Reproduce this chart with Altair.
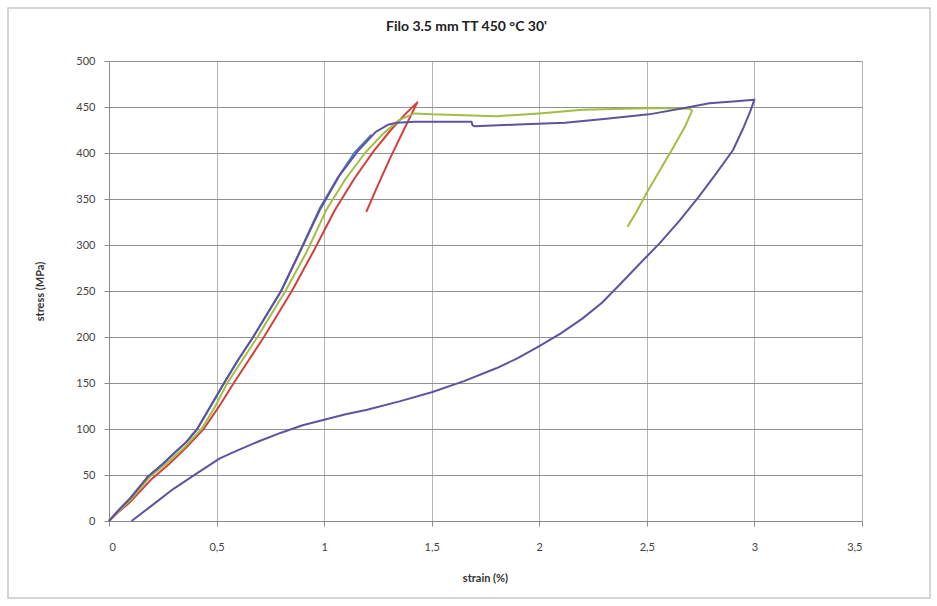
import altair as alt
import pandas as pd

# Series data
blue_x = [0, 0.05, 0.1, 0.18, 0.25, 0.3, 0.36, 0.41, 0.47, 0.535, 0.6, 0.67, 0.735, 0.80, 0.89, 0.98,
          1.06, 1.14, 1.22]
blue_y = [0, 13, 25, 48, 62, 73, 86, 100, 124, 150, 175, 200, 225, 250, 294, 340,
          372, 400, 420]

red_x = [0, 0.05, 0.1, 0.2, 0.28, 0.36, 0.44, 0.51, 0.58, 0.65, 0.72, 0.785, 0.85, 0.95, 1.05, 1.14,
         1.23, 1.31, 1.38, 1.433,
         1.37, 1.31, 1.25, 1.196]
red_y = [0, 11, 21, 46, 62, 80, 100, 124, 150, 175, 200, 225, 250, 293, 338, 372,
         402, 425, 443, 455,
         425, 396, 365, 336]

green_x = [0, 0.05, 0.1, 0.19, 0.27, 0.35, 0.43, 0.49, 0.55, 0.62, 0.69, 0.755, 0.82, 0.92, 1.01, 1.1,
           1.19, 1.27, 1.35, 1.42,
           1.5, 1.65, 1.8, 2.0, 2.2, 2.4, 2.55, 2.7, 2.71, 2.68, 2.62, 2.56, 2.5, 2.45, 2.41]
green_y = [0, 12, 23, 48, 63, 80, 100, 123, 150, 175, 200, 225, 250, 293, 338, 372,
           400, 420, 436, 443,
           442, 441, 440, 443, 447, 448, 449, 448, 446, 430, 405, 381, 357, 335, 320]

purple_x = [0, 0.05, 0.1, 0.18, 0.25, 0.3, 0.36, 0.41, 0.47, 0.535, 0.6, 0.67, 0.735, 0.80, 0.89, 0.98,
            1.07, 1.16, 1.24, 1.30, 1.34,
            1.42, 1.55, 1.685, 1.69, 1.70, 1.9, 2.12, 2.3, 2.51, 2.7, 2.79, 2.9, 3.0,
            2.98, 2.95, 2.9, 2.82, 2.74, 2.65, 2.56, 2.46, 2.37, 2.29, 2.2, 2.1, 2.0, 1.9, 1.8,
            1.65, 1.5, 1.35, 1.2, 1.1, 1.0, 0.9, 0.8, 0.7, 0.6, 0.515, 0.41, 0.3, 0.2, 0.105]
purple_y = [0, 13, 25, 48, 62, 73, 86, 100, 124, 150, 175, 200, 225, 250, 294, 338,
            375, 403, 423, 431, 433,
            434, 434, 434, 430, 429, 431, 433, 437, 442, 450, 454, 456, 458,
            445, 428, 403, 377, 352, 326, 302, 278, 256, 237, 220, 204, 190, 177, 166,
            152, 140, 130, 121, 116, 110, 104, 96, 87, 77, 68, 52, 35, 17, 0]

series_names = ["blue", "red", "green", "purple"]
series_colors = ["#4A7EBB", "#D2403C", "#A2BE44", "#5E539E"]
x_ticks = [0, 0.5, 1, 1.5, 2, 2.5, 3, 3.5]
y_ticks = [0, 50, 100, 150, 200, 250, 300, 350, 400, 450, 500]

rows = []
for name, xs, ys in [("blue", blue_x, blue_y), ("red", red_x, red_y),
                     ("green", green_x, green_y), ("purple", purple_x, purple_y)]:
    for i, (xv, yv) in enumerate(zip(xs, ys)):
        rows.append({"series": name, "strain": xv, "stress": yv, "idx": i})
df = pd.DataFrame(rows)

FONT = "Lato"

lines = alt.Chart(df).mark_line(strokeWidth=2, strokeJoin="round").encode(
    x=alt.X("strain:Q",
            scale=alt.Scale(domain=[0, 3.5], nice=False, zero=True),
            axis=alt.Axis(values=x_ticks, title="strain (%)",
                          labelExpr="replace(format(datum.value, '~g'), '.', ',')",
                          gridColor="#b4b4b4", domainColor="#8a8a8a", tickColor="#8a8a8a",
                          tickSize=5, labelPadding=15, labelFontSize=11, labelColor="#444",
                          labelFont=FONT, titleFont=FONT, titleFontSize=11, titleFontWeight="bold",
                          titleColor="#333", titleX=376, titleY=57, titleBaseline="middle")),
    y=alt.Y("stress:Q",
            scale=alt.Scale(domain=[0, 500], nice=False),
            axis=alt.Axis(values=y_ticks, title="stress (MPa)",
                          gridColor="#909090", domainColor="#8a8a8a", tickColor="#8a8a8a",
                          tickSize=5, labelPadding=9, labelFontSize=11, labelColor="#444",
                          labelFont=FONT, titleFont=FONT, titleFontSize=11, titleFontWeight="bold",
                          titleColor="#333", titleX=-69, titleY=230, titleAngle=-90,
                          titleAlign="center", titleBaseline="middle")),
    color=alt.Color("series:N", scale=alt.Scale(domain=series_names, range=series_colors), legend=None),
    order=alt.Order("idx:Q"),
    detail="series:N",
)

frame = alt.Chart(pd.DataFrame({"a": [0]})).mark_rect(
    fillOpacity=0, stroke="#c8c8c8", strokeWidth=1.5
).encode(
    x=alt.value(-101), x2=alt.value(821), y=alt.value(-53), y2=alt.value(537)
)

chart = alt.layer(frame, lines).properties(
    width=753, height=460,
    title=alt.TitleParams("Filo 3.5 mm TT 450 °C 30'", font=FONT, fontSize=14, fontWeight="bold",
                          color="#222", anchor="middle", dx=-19, offset=-27),
    autosize=alt.AutoSizeParams(type="none"),
    padding={"left": 109, "top": 61, "right": 75, "bottom": 85},
).configure_view(stroke=None).configure(background="white")

chart.save("out.html", embed_options={"renderer": "svg", "actions": False})
